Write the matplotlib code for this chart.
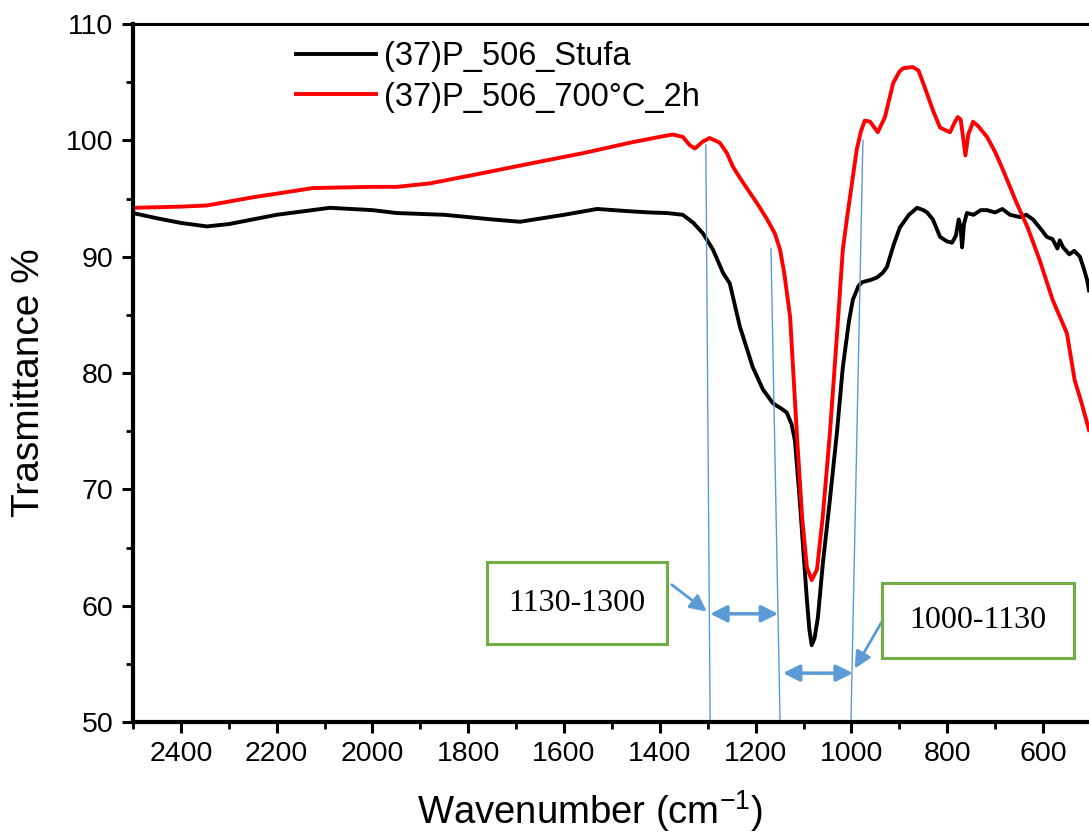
import matplotlib
matplotlib.use("Agg")
import matplotlib.pyplot as plt
from matplotlib.patches import Rectangle, FancyArrowPatch
from matplotlib.ticker import MultipleLocator

plt.rcParams['font.family'] = ['Liberation Sans', 'DejaVu Sans']
plt.rcParams['mathtext.fontset'] = 'custom'
plt.rcParams['mathtext.rm'] = 'Liberation Sans'

# --- data -------------------------------------------------------------
wn_stufa = [2500, 2450, 2400, 2346, 2300, 2200, 2089, 2000, 1949, 1850, 1750, 1692,
            1600, 1531, 1462, 1421, 1385, 1352, 1330, 1310, 1289, 1268, 1254, 1233,
            1206, 1185, 1164, 1145, 1135, 1125, 1118, 1108, 1100, 1093, 1088, 1083,
            1077, 1070, 1060, 1045, 1030, 1018, 1005, 997, 985, 978, 960, 947, 935,
            926, 912, 899, 880, 863, 850, 842, 830, 815, 800, 790, 782, 776, 772,
            769, 765, 759, 745, 730, 717, 700, 685, 669, 648, 635, 621, 605, 592,
            580, 570, 565, 558, 545, 535, 523, 515, 508, 504]
t_stufa = [93.75, 93.3, 92.9, 92.6, 92.8, 93.6, 94.2, 94.0, 93.75, 93.6, 93.2, 93.0,
           93.6, 94.1, 93.9, 93.8, 93.75, 93.6, 92.9, 92.0, 90.6, 88.6, 87.7, 84.0,
           80.5, 78.6, 77.4, 76.9, 76.6, 75.6, 74.2, 69.1, 64.5, 60.5, 58.0, 56.6,
           57.2, 59.0, 63.5, 69.1, 75.0, 80.5, 84.5, 86.3, 87.5, 87.8, 88.0, 88.2, 88.6,
           89.1, 91.0, 92.5, 93.6, 94.2, 94.0, 93.8, 93.2, 91.7, 91.3, 91.2, 91.8, 93.2, 92.5,
           90.8, 92.8, 93.75, 93.6, 94.0, 94.0, 93.8, 94.1, 93.6, 93.4, 93.6, 93.2, 92.4, 91.7,
           91.5, 90.7, 91.4, 90.8, 90.2, 90.5, 90.0, 89.0, 88.0, 87.1]

wn_700 = [2500, 2400, 2346, 2250, 2124, 2000, 1949, 1880, 1780, 1671, 1560, 1462,
          1400, 1373, 1352, 1338, 1327, 1310, 1296, 1275, 1260, 1247, 1230, 1212, 1194, 1176,
          1160, 1149, 1140, 1128, 1122, 1114, 1103, 1093, 1083, 1072, 1060, 1045,
          1030, 1018, 1009, 1000, 989, 980, 972, 961, 945, 930, 913, 900, 892, 872,
          860, 850, 830, 815, 800, 794, 785, 778, 772, 766, 762, 756, 746, 735, 717,
          700, 684, 670, 655, 632, 607, 580, 550, 534, 520, 504]
t_700 = [94.2, 94.3, 94.4, 95.1, 95.9, 96.0, 96.0, 96.3, 97.1, 98.0, 98.9, 99.8,
         100.3, 100.5, 100.3, 99.6, 99.3, 99.9, 100.2, 99.8, 98.9, 97.7, 96.6, 95.5, 94.4, 93.2,
         92.0, 90.6, 88.5, 84.8, 80.5, 74.8, 67.6, 63.3, 62.2, 63.1, 67.6, 74.8,
         83.4, 90.6, 93.4, 96.0, 99.2, 100.8, 101.7, 101.6, 100.7, 102.0, 104.9, 105.9, 106.2, 106.3,
         106.0, 104.9, 102.6, 101.1, 100.8, 100.7, 101.5, 102.0, 101.8, 100.0, 98.7, 100.5, 101.6, 101.2, 100.3,
         99.0, 97.5, 96.1, 94.6, 92.5, 89.7, 86.3, 83.4, 79.4, 77.5, 75.1]

labels = ["(37)P_506_Stufa", "(37)P_506_700°C_2h"]
x_ticks = [2400, 2200, 2000, 1800, 1600, 1400, 1200, 1000, 800, 600]
y_ticks = [50, 60, 70, 80, 90, 100, 110]

# annotation guides (wavenumber, transmittance)
guide_lines = [((1304, 99.6), (1295, 50.0)),
               ((1168, 90.7), (1149, 50.0)),
               ((976, 100.0), (1001, 50.0))]
range_arrows = [((1295, 59.3), (1153, 59.3)),
                ((1143, 54.2), (997, 54.2))]
box_texts = ["1130-1300", "1000-1130"]
box_rects = [(1761, 56.7, 1385, 63.75), (936, 55.5, 536, 61.95)]
pointer_arrows = [((1375, 61.8), (1302, 59.5)),
                  ((934, 58.8), (993, 54.6))]

# --- figure -----------------------------------------------------------
fig = plt.figure(figsize=(10.89, 8.40), dpi=100)
ax = fig.add_axes([133/1089, 1 - 722/840, 1 - 133/1089, (722 - 24)/840])

ax.plot(wn_stufa, t_stufa, color='black', lw=2.8, label=labels[0])
ax.plot(wn_700, t_700, color='#ff0000', lw=2.8, label=labels[1])

ax.set_xlim(2500, 504)
ax.set_ylim(50, 110)
ax.set_xticks(x_ticks)
ax.set_yticks(y_ticks)
ax.xaxis.set_minor_locator(MultipleLocator(100))
ax.yaxis.set_minor_locator(MultipleLocator(5))
ax.tick_params(which='major', direction='out', length=8, width=2.2, labelsize=20.5, pad=6)
ax.tick_params(which='minor', direction='out', length=5, width=2.0)
for s in ['left', 'bottom']:
    ax.spines[s].set_linewidth(3.0)
ax.spines['top'].set_linewidth(2.2)
ax.spines['right'].set_visible(False)

ax.set_xlabel("Wavenumber (cm$^{\\mathregular{-1}}$)", fontsize=27.5)
ax.xaxis.set_label_coords((590 - 133) / 956, -(788 - 722) / 698)
ax.set_ylabel("Trasmittance %", fontsize=28)
ax.yaxis.set_label_coords(-(133 - 47) / 956, (722 - 383) / 698)

leg = ax.legend(loc='upper left', bbox_to_anchor=(150/956, 1 - 4/698), frameon=False,
                fontsize=23.5, handlelength=2.45, handletextpad=0.25, labelspacing=0.3,
                borderaxespad=0)

blue = '#5B9BD5'
for (p0, p1) in guide_lines:
    ax.plot([p0[0], p1[0]], [p0[1], p1[1]], color=blue, lw=1.0, clip_on=False)
for (p0, p1) in range_arrows:
    ax.add_patch(FancyArrowPatch(p0, p1, arrowstyle='<|-|>,head_length=5,head_width=2.5',
                                 color=blue, lw=2.5, shrinkA=0, shrinkB=0, mutation_scale=2.0,
                                 clip_on=False))
for (p0, p1) in pointer_arrows:
    ax.add_patch(FancyArrowPatch(p0, p1, arrowstyle='-|>,head_length=5,head_width=2.5',
                                 color=blue, lw=2.0, shrinkA=0, shrinkB=0, mutation_scale=2.0,
                                 clip_on=False))
green = '#70AD47'
for txt, (x0, y0, x1, y1) in zip(box_texts, box_rects):
    ax.add_patch(Rectangle((x0, y0), x1 - x0, y1 - y0, facecolor='white',
                           edgecolor=green, lw=2.2, zorder=5, clip_on=False))
    ax.text((x0 + x1) / 2, (y0 + y1) / 2, txt, ha='center', va='center',
            fontsize=23, family=['Liberation Serif', 'DejaVu Serif'], zorder=6)

fig.savefig("out.png", dpi=100)
